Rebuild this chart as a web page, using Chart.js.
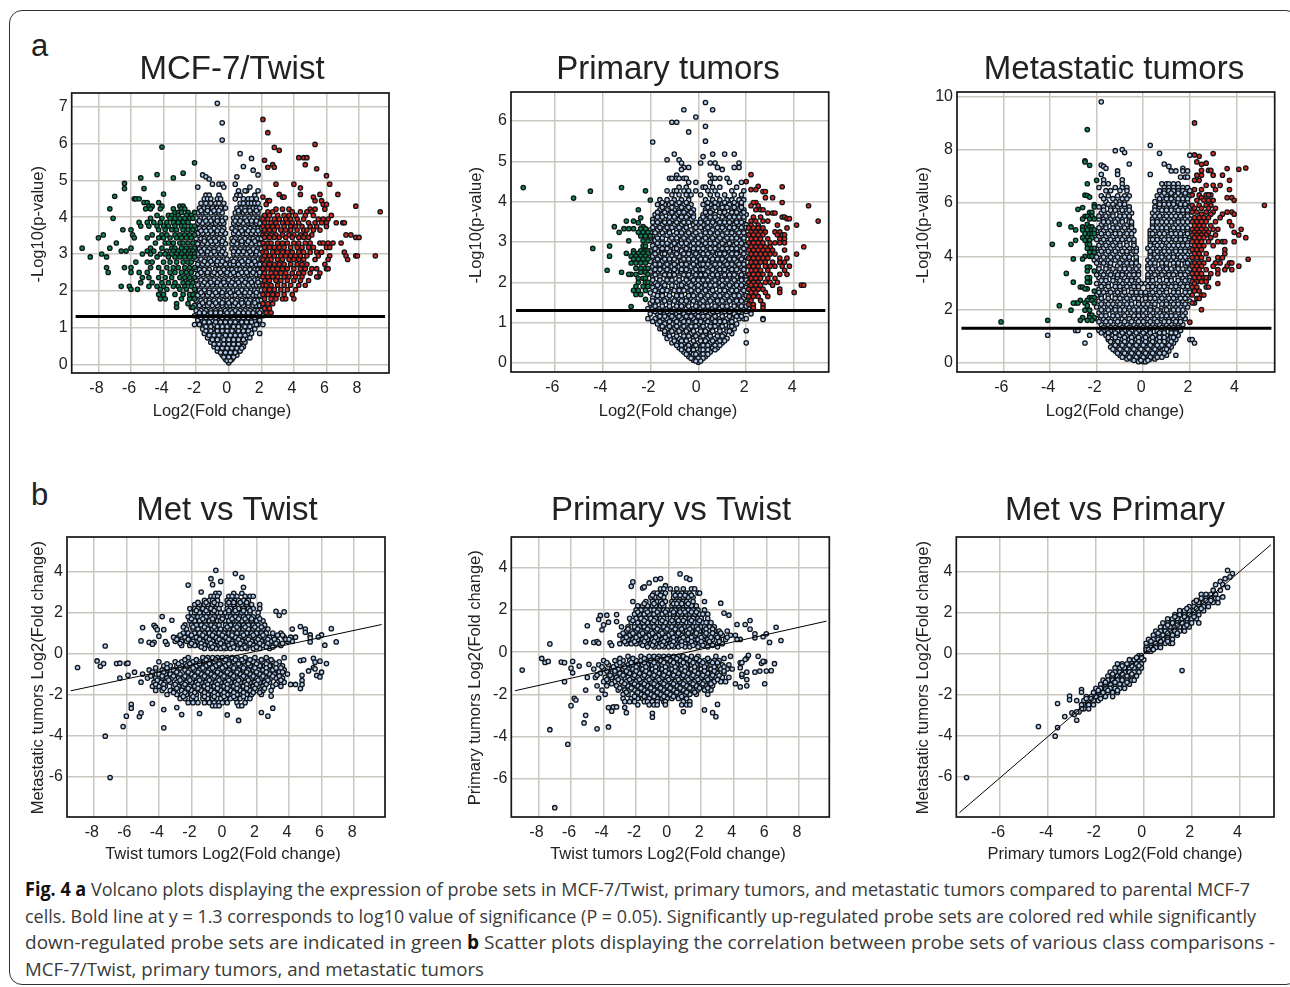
<!DOCTYPE html>
<html><head><meta charset="utf-8">
<script src="https://cdn.jsdelivr.net/npm/chart.js@4/dist/chart.umd.min.js"></script>
<style>
html,body{margin:0;padding:0;background:#fff;overflow:hidden;width:1290px;height:987px}
#box{position:absolute;left:9px;top:10px;width:1290px;height:975px;border:1.5px solid #333;border-radius:13px;box-sizing:border-box}
canvas{position:absolute}
.let{position:absolute;left:31px;font:31px "Liberation Sans",Arial,sans-serif;color:#222}
.cap{position:absolute;left:25px;white-space:nowrap;font:19px "Open Sans",sans-serif;color:#3a3a3a;transform-origin:0 0;line-height:26px}
.cap b{color:#111}
</style></head><body>
<div id="box"></div>
<div class="let" style="top:28px">a</div>
<div class="let" style="top:477px">b</div>
<div class="cap" data-w="1225" style="top:876px"><b>Fig. 4 a</b> Volcano plots displaying the expression of probe sets in MCF-7/Twist, primary tumors, and metastatic tumors compared to parental MCF-7</div>
<div class="cap" data-w="1231" style="top:903px">cells. Bold line at y = 1.3 corresponds to log10 value of significance (P = 0.05). Significantly up-regulated probe sets are colored red while significantly</div>
<div class="cap" data-w="1250" style="top:929px">down-regulated probe sets are indicated in green <b>b</b> Scatter plots displaying the correlation between probe sets of various class comparisons -</div>
<div class="cap" data-w="459" style="top:956px">MCF-7/Twist, primary tumors, and metastatic tumors</div>
<script>
// Every row: [y, x*10, x*10, ...].
const mcfBlue=[[7.1,-7],[6.57,-4],[6.1,-4],[5.73,7],[5.6,14],[5.38,9],[5.28,15],[5.15,18,-16],[5.1,-14,5],[5.04,-12],[4.9,-10,-6,-4,4],[4.82,-19,-3,13],[4.72,11,10,18,6],[4.6,-14,-12,-6,5,7,16],[4.5,-15,-13,-11,-7,-5,4,9,12,14,17],
[4.38,-17,-14,-11,-8,-6,-3,7,9,12,14,16,18],[4.25,-18,-15,-13,-10,-7,-5,-2,5,8,10,13,15,17,19],[4.12,-19,-16,-14,-11,-8,-6,-4,4,6,9,11,14,16,18],[3.98,-20,-17,-15,-12,-9,-7,-4,-2,3,5,8,10,13,15,18,20],[3.84,-19,-16,-13,-10,-8,-5,-3,3,6,9,12,14,17,19],[3.7,-20,-18,-15,-12,-9,-6,-3,2,5,7,10,13,16,18,20],[3.56,-19,-16,-13,-10,-7,-5,-2,3,6,9,11,14,17,19],[3.42,-20,-17,-15,-12,-9,-6,-3,2,4,7,10,13,15,18,20],[3.28,-19,-16,-13,-10,-7,-4,-2,2,5,8,11,14,17,19],[3.14,-20,-18,-15,-12,-9,-6,-3,2,4,7,10,12,15,18,20],[3,-19,-16,-13,-11,-8,-5,-2,3,5,8,11,14,17,19],
[2.86,-20,-17,-14,-12,-9,-6,-3,-1,2,4,7,10,13,15,18,20],[2.72,-19,-16,-13,-10,-7,-5,-2,1,3,6,9,12,14,17,19],[2.58,-20,-18,-15,-12,-8,-6,-3,0,2,5,7,10,13,16,18,20],[2.44,-19,-16,-13,-10,-7,-4,-1,1,4,6,9,12,14,17,19],[2.3,-20,-17,-14,-11,-9,-6,-3,0,3,5,8,11,13,16,18,20],[2.16,-19,-16,-13,-10,-7,-5,-2,1,4,7,9,12,15,17,19],[2.02,-20,-18,-15,-12,-9,-6,-3,0,3,5,8,11,14,16,18,20],[1.88,-19,-16,-13,-10,-7,-4,-1,2,4,7,10,12,15,17,19],[1.74,-20,-17,-14,-12,-9,-6,-3,-1,2,5,8,11,13,16,18,20],[1.6,-21,-18,-15,-13,-10,-7,-4,-1,1,3,6,9,12,15,17,19,21],[1.46,-20,-17,-14,-11,-8,-5,-2,1,4,7,10,13,16,18,20],
[1.32,-21,-18,-16,-13,-10,-7,-3,0,3,5,8,11,14,17,19,21],[1.2,-19,-16,-13,-10,-7,-4,-1,2,5,8,11,14,16,19],[1.08,-21,-18,-15,-12,-9,-6,-3,0,3,6,9,12,15,18,21,17],[.96,-16,-13,-10,-7,-4,-1,2,5,8,11,14,16],[.84,-15,-12,-9,-6,-3,0,3,6,9,12,14,19],[.72,-13,-10,-7,-4,-1,2,5,8,11,13],[.6,-11,-8,-5,-2,1,4,7,10],[.48,-9,-6,-3,0,3,6,9],[.36,-7,-4,-1,2,5,7],[.25,-4,-2,1,3,5],[.14,-2,0,2],[.04,0]];
const mcfBlueFill=[[.1,-1,1],[.2,-3,0,3],[.32,-5,-2,1,4],[.44,-7,-4,-1,2,5,8],[.55,-9,-6,-3,0,3,6],[.67,-10,-7,-3,0,3,6,9],[.79,-12,-9,-6,-2,1,4,7,10],[.91,-14,-11,-7,-4,-1,2,6,9,12],[1.03,-14,-11,-7,-4,-1,3,6,10,13],[1.15,-15,-12,-8,-5,-2,1,4,8,11,14],[1.27,-17,-14,-11,-8,-4,-1,3,6,9,12,16],[1.4,-18,-15,-11,-8,-5,-1,2,6,9,12,15,19],[1.67,-16,-12,-8,-4,0,4,8,12,16],[1.95,-17,-12,-8,-4,1,6,10,13,17],[2.23,-15,-11,-7,-3,2,6,10,14,18],[2.5,-17,-13,-9,-5,-1,3,8,11,15,19],[2.8,-15,-11,-7,-4,3,8,12,16],[3.07,-17,-13,-9,-4,3,6,9,13,17],[3.35,-15,-11,-8,-4,3,8,12,16],[3.63,-17,-14,-11,-7,-4,4,8,12,15,18],[3.9,-18,-14,-11,-7,-4,4,7,11,14,17],[4.18,-17,-13,-9,-6,6,10,13,17]];
const mcfGreen=[[5.91,-41],[5.48,-21],[5.2,-28],[5.16,-44],[5.07,-54,-34],[4.92,-64],[4.78,-64,-52],[4.63,-40],[4.57,-70],[4.5,-58,-57,-55],[4.4,-52,-50,-43],[4.3,-41,-49,-47,-30,-28],[4.23,-73,-51,-48,-42,-34,-29,-27],[4.13,-33,-31,-25,-21,-29],[4.05,-44,-37,-35,-31,-26,-23],[3.97,-71,-48,-41,-36,-33,-30,-27,-24,-22],[3.86,-55,-50,-46,-42,-38,-34,-31,-28,-25],[3.76,-54,-49,-44,-40,-37,-33,-29,-27,-23,-21],[3.66,-65,-60,-43,-39,-35,-32,-28,-25,-22],[3.52,-77,-59,-47,-41,-38,-33,-30,-27,-24,-21],[3.44,-80,-58,-50,-43,-40,-36,-32,-29,-26,-23],[3.3,-69,-45,-39,-37,-34,-30,-28,-25,-22],[3.16,-90,-73,-60,-48,-41,-35,-33,-29,-26,-23,-21],[3.08,-66,-63,-50,-46,-38,-34,-31,-27,-24,-22],[3,-78,-53,-48,-42,-39,-35,-32,-29,-25,-23,-21],[2.92,-85,-75,-44,-37,-33,-30,-27,-24,-21],[2.78,-57,-50,-47,-40,-36,-32,-28,-25,-23],[2.63,-75,-64,-60,-48,-43,-38,-34,-31,-27,-24,-21],[2.5,-74,-60,-55,-50,-41,-36,-33,-29,-26,-23],[2.36,-53,-49,-43,-39,-35,-30,-27,-24,-21],[2.22,-54,-47,-41,-37,-33,-28,-25,-22],[2.12,-66,-61,-49,-44,-40,-34,-31,-27,-23],[2.04,-60,-56,-42,-38,-30,-26,-21],[1.9,-43,-40,-33,-28,-24,-22],[1.78,-42,-39,-29,-24,-21],[1.65,-32,-25],[1.55,-32,-23,-22]];
const mcfRed=[[6.66,21],[6.3,24],[5.98,53],[5.9,28],[5.82,31],[5.62,43,46,48],[5.55,22],[5.43,27,47],[5.36,24,28],[5.32,54],[5.13,60],[4.9,29,40,62],[4.8,44],[4.62,31,44,56,67],[4.55,21,33,34,52],[4.45,24,25,53,57],[4.35,23,58,60],[4.3,78],[4.22,29,33,37,50,53,59],[4.15,24,27,39,44,48,51,93],[4.05,22,25,30,34,37,41,47,52,63],[3.95,21,24,28,31,35,38,42,46,55,58,61],[3.85,22,26,29,33,36,39,43,49,53,57,60,66,70,71],[3.75,21,24,27,30,34,38,41,45,50,54,60],[3.65,22,25,28,32,35,38,42,46,48,52,56],[3.52,21,23,26,29,33,37,40,44,47,51,72,75],[3.45,22,25,28,31,35,39,43,46,49,78,80],[3.3,21,24,26,30,33,36,40,43,47,50,56,58,61,64,69],[3.18,22,25,28,31,34,38,42,45,49,52,60,62],[3.05,21,23,27,30,33,36,39,43,46,50,54,57,71],[2.95,22,25,28,32,35,38,41,44,48,55,62,90,72,78,79],[2.85,21,24,26,30,33,37,40,43,46,53,61,73],[2.72,22,25,28,31,34,38,42,45,48,59],[2.6,21,24,27,30,33,36,40,44,47,51,54,60,61],[2.48,22,26,29,32,35,39,43,46,56,50],[2.38,21,24,27,30,34,37,41,45,55,54],[2.28,22,25,29,32,36,40,44,49],[2.15,21,23,26,30,34,38,43,47],[2.03,22,25,28,32,36,41],[1.9,21,24,27,30,34,39],[1.78,22,26,29,33,35,40],[1.65,21,24,27],[1.52,22,25],[1.4,23,26]];

const primBlue=[[6.46,3],[6.28,-6,6],[6.1,-1],[5.97,-11,-9],[5.87,3],[5.73,-4],[5.5,3],[5.48,-19],[5.18,-10,6,11,15],[5.12,2],[5.04,-13,-8],[4.96,-7,1,5,7,17],[4.85,-6,-4,8,15,17],[4.8,10,-7],[4.66,-9,5],[4.58,-12,-11,-9,-8,-6,-5,6,7,9,12],[4.48,-4,5,13,18,-1],[4.36,-5,-8,6,9,16,2,3],[4.27,-13,-10,-9,-6,-4,-1,4,7,14,19],[4.17,-11,-8,-5,-3,1,5,8,11,15,18],[4.05,-16,-13,-10,-7,-4,3,6,9,12,14,17,19],[3.93,-17,-14,-12,-9,-6,-3,2,5,8,10,13,16,18],[3.8,-16,-13,-10,-8,-5,-2,3,6,9,11,14,17,19],[3.68,-18,-15,-12,-9,-7,-4,-2,2,4,7,10,12,15,18,20],[3.56,-19,-16,-14,-11,-8,-6,-3,1,3,6,8,11,14,16,19],[3.43,-18,-15,-13,-10,-7,-5,-2,2,5,7,10,12,15,17,20],[3.3,-20,-17,-14,-12,-9,-6,-3,2,3,6,9,11,14,16,19],[3.17,-19,-16,-13,-10,-8,-5,-2,1,4,7,10,13,15,18,20],[3.04,-20,-18,-15,-12,-9,-7,-4,-1,2,5,8,11,14,17,19],
[2.91,-19,-16,-14,-11,-8,-6,-3,-1,1,4,6,9,12,15,17,20],[2.78,-20,-17,-15,-12,-10,-7,-4,-2,1,3,6,8,11,13,16,18],[2.65,-19,-16,-13,-11,-8,-5,-3,0,2,5,7,10,12,15,17,20],[2.52,-20,-18,-15,-12,-9,-7,-4,-1,1,4,6,9,11,14,16,19],[2.39,-19,-16,-14,-11,-8,-6,-3,0,3,5,8,10,13,15,18,20],[2.26,-20,-17,-15,-12,-9,-7,-4,-2,1,4,7,9,12,14,17,19],[2.13,-19,-16,-13,-11,-8,-5,-3,0,2,5,8,10,13,16,18,20],[2,-20,-18,-15,-12,-9,-6,-4,-1,1,3,6,9,11,14,17,19],[1.87,-19,-16,-14,-11,-8,-5,-2,1,4,6,9,12,15,17,20],[1.74,-20,-17,-15,-12,-9,-7,-4,-1,2,5,8,10,13,15,18],[1.61,-19,-16,-13,-11,-8,-5,-3,0,3,6,8,11,14,16,19,21],[1.48,-20,-18,-15,-12,-9,-6,-4,-1,1,4,7,9,12,15,17,20],[1.35,-21,-19,-16,-13,-10,-8,-5,-2,1,3,6,9,11,14,16,19,21],[1.22,-20,-17,-14,-12,-9,-6,-3,-1,2,5,7,10,13,15,18,22],[1.1,-21,-18,-15,-13,-10,-7,-4,-2,1,3,6,9,12,14,17,19,20,27],[.97,-17,-14,-11,-8,-5,-3,0,2,5,8,10,13,16],[.85,-16,-13,-10,-7,-4,-2,1,4,6,9,12,15,-15],[.73,-14,-12,-9,-6,-3,0,3,5,8,11,14],[.61,-13,-10,-8,-5,-2,1,4,7,9,12],[.5,-11,-9,-6,-3,0,2,5,8,10,20],[.38,-8,-5,-2,1,3,6,8],[.27,-6,-3,0,3,5],[.16,-4,-2,1,3],[.07,-2,1],[.02,0],[.8,20],[1.08,27]];
const primBlueFill=[[3.98,-15,-11,-8,-5,4,7,11,15,18],[3.86,-15,-11,-7,-4,4,7,10,12,15,18],[3.74,-17,-14,-11,-8,-6,-3,3,5,9,11,14,16,19],[3.62,-17,-15,-12,-10,-7,-5,-2,2,5,7,10,13,15,17,19],[3.49,-19,-17,-14,-12,-9,-6,-4,-1,1,4,6,9,11,13,16,18],[3.36,-19,-16,-13,-11,-8,-5,-1,1,4,8,10,13,15,18,20],[3.23,-20,-18,-15,-12,-9,-7,-4,-1,3,5,8,12,14,17,19],[3.1,-20,-17,-15,-11,-9,-6,-3,0,3,6,9,12,14,16,19],[2.97,-17,-15,-13,-10,-7,-5,-2,0,3,5,7,10,13,16,18],[2.84,-18,-15,-13,-10,-9,-5,-2,0,2,5,7,10,12,14,16,19],[2.71,-18,-15,-14,-9,-6,-4,-1,2,4,8,9,11,14,16,19],[2.58,-17,-14,-12,-10,-6,-4,-2,1,3,6,8,10,13,15,18],[2.45,-18,-16,-13,-10,-7,-5,-2,1,2,4,7,9,12,14,17,19],[2.32,-18,-16,-13,-10,-7,-5,-1,1,2,6,9,11,14,16,19],[2.19,-18,-14,-12,-10,-6,-4,-1,1,3,6,8,11,13,15,18],[2.06,-19,-16,-13,-11,-8,-5,-2,0,2,4,7,10,12,15,18,20],[1.93,-17,-14,-11,-8,-7,-3,0,3,5,7,10,13,16,18],[1.8,-18,-15,-13,-10,-8,-6,-3,0,3,6,9,11,14,16,19],[1.67,-17,-15,-12,-9,-7,-4,-2,1,4,7,9,12,15,17,20],[1.54,-19,-17,-14,-10,-7,-5,-2,2,5,8,10,13,16,18],[1.41,-18,-15,-12,-9,-7,-4,-1,2,4,7,10,12,15,18,20],[1.28,-18,-16,-13,-11,-8,-4,-2,0,3,6,8,11,13,17,20],[1.16,-16,-14,-11,-8,-5,-3,0,2,4,7,10,13,16,18],[1.03,-19,-16,-12,-9,-6,-4,-1,1,4,7,9,11,14],[.91,-15,-12,-9,-6,-3,-1,2,5,7,10,13,14],[.79,-14,-11,-8,-5,-2,1,3,6,9,12,13],[.67,-12,-9,-6,-4,-1,2,5,8,10],[.55,-10,-7,-5,-2,1,3,6,9,11],[.44,-9,-7,-4,-1,2,4,7,9],[.33,-7,-4,-2,1,2,4,7],[.22,-5,-2,-1,2,4],[.12,-3,0,2],[.05,-1,1]];
const primGreen=[[4.35,-73],[4.26,-45],[4.35,-32],[4.27,-22],[4.09,-52],[4.04,-20],[3.8,-25],[3.6,-24],[3.52,-30,-27],[3.48,-25],[3.38,-35,-23],[3.33,-31,-29,-27,-24,-22],[3.24,-33,-25,-23,-21],[3.15,-24,-22,-20],[3.03,-29,-23,-21],[2.9,-37,-23,-22],[2.84,-44],[2.78,-27,-24,-22,-21],[2.72,-30,-27,-25,-23,-21],[2.65,-37,-28,-26,-24,-22],[2.58,-27,-25,-23,-21],[2.48,-28,-26,-24,-22],[2.35,-26,-24,-22,-21],[2.3,-38],[2.25,-32,-24,-22],[2.2,-28,-29,-26,-21],[2.1,-25,-23,-22],[2.0,-25,-22,-21],[1.9,-26,-23,-21],[1.8,-27,-25,-22],[1.7,-26,-24],[1.58,-22],[1.4,-28]];
const primRed=[[4.67,22],[4.5,20],[4.38,25],[4.37,35],[4.3,24,22],[4.25,27,28],[4.1,28,31],[3.98,35,24,23],[3.9,22,25,46],[3.8,24,26,27],[3.72,29,31,32],[3.62,23,26,35,36],[3.58,37,38],[3.52,22,24,27,29,50],[3.42,22,25,33,41],[3.35,21,23,25,27,37],[3.25,22,24,26,28,32,34],[3.18,21,23,25,27,33,35,36],[3.08,22,24,26,29,34,36],[2.98,21,23,25,27,30,34,32,36],[2.88,22,24,26,28,30,44],[2.8,21,23,25,27,29,31,36],[2.7,22,24,26,28,30,32,41],[2.6,21,23,25,27,29,34,37],[2.5,22,24,26,28,31,34,36],[2.4,21,23,25,28,30,32,35,38],[2.3,22,24,26,29,36],[2.2,21,23,25,27,30,34,37],[2.1,22,24,26,29,32],[2.0,21,23,25,28,30,33],[1.93,22,24,26,31,43,44],[1.83,21,23,25,27,34],[1.75,22,24,28,34,40],[1.65,21,23,25,29],[1.55,22,26],[1.45,21,23,27],[1.37,23,27]];

const metBlue=[[9.79,-18],[8.16,3],[7.96,-12],[8,-9],[7.89,-8],[7.86,7],[7.79,20],[7.46,-6,9],[7.42,-18],[7.37,-17,11],[7.3,-16,17],[7.2,-11,12,14,17,19],[7.07,3,-11,-18],[6.97,18,19,16],[6.87,-17,-9],[6.72,-17,-15,8,10,-9,11,13,15],[6.58,-19,-12,-9,-7,9,11,13,15,17,19],[6.46,-16,-14,-10,-7,7,9,11,13,15,17,20],[6.27,-18,-15,-11,-8,-6,6,8,10,12,14,16,18,20],[6.05,-16,-12,-10,-8,5,7,9,11,13,15,17,19],[5.85,-19,-17,-14,-11,-8,-6,5,7,10,12,14,16,18,20],[5.62,-18,-15,-13,-10,-7,-5,4,6,8,11,13,15,17,19],[5.4,-19,-17,-14,-11,-9,-6,4,6,9,11,13,15,18,20],[5.18,-18,-16,-13,-10,-7,-5,4,7,9,11,14,16,18],[4.96,-20,-17,-14,-12,-9,-6,-4,3,5,8,10,12,15,17,19],[4.74,-19,-16,-13,-10,-8,-5,3,6,8,11,13,16,18,20],[4.52,-18,-15,-12,-10,-7,-4,3,5,7,10,12,15,17,19],[4.3,-20,-17,-14,-11,-8,-6,-3,2,4,7,9,12,14,16,18,20],[4.08,-19,-16,-13,-10,-7,-5,3,5,8,10,13,15,17,19],[3.86,-21,-18,-15,-12,-9,-6,-3,2,4,7,9,12,14,17,20],[3.64,-19,-16,-14,-11,-8,-5,-2,2,5,8,10,13,15,18,20],[3.42,-20,-18,-15,-12,-9,-7,-4,-2,3,6,9,11,14,16,19],[3.2,-19,-16,-13,-11,-8,-5,-3,2,4,7,10,12,15,17,20],[2.98,-20,-17,-15,-12,-9,-6,-4,-1,1,3,6,9,11,14,16,19],[2.76,-19,-16,-13,-10,-8,-5,-2,2,5,8,10,13,15,18,20],[2.54,-20,-18,-15,-12,-9,-6,-3,-1,1,3,6,9,12,14,17,19],[2.32,-19,-16,-14,-11,-8,-5,-2,1,4,7,10,12,15,17,20],[2.1,-20,-17,-14,-12,-9,-6,-3,-1,1,3,5,8,11,14,16,19],[1.88,-19,-16,-13,-10,-7,-5,-2,1,4,7,9,12,15,18],[1.66,-20,-17,-15,-12,-9,-6,-3,-1,2,5,8,11,13,16,18],[1.44,-18,-15,-13,-10,-7,-4,-1,2,4,7,10,12,15,17],[1.22,-19,-17,-14,-11,-8,-5,-2,1,3,6,9,12,14,16,-29,-28],[1.04,-41,-23,-16,-13,-10,-7,-4,-1,2,5,8,10,13,15],[.88,-15,-12,-9,-6,-3,0,3,6,9,11,14,20,21],[.75,-25,-13,-10,-7,-4,-1,2,5,8,10,13,22],[.6,-14,-11,-8,-5,-2,1,4,7,9,12],[.45,-12,-9,-6,-3,0,3,6,8,11],[.29,-10,-7,-4,-1,2,5,7,10,14],[.15,-7,-5,-2,1,3,5],[.05,-2,0,1]];
const metBlueFill=[[6.37,12,15,18,9],[6.16,-17,-13,-9,-7,7,10,12,15,17,19],[5.95,-15,-13,-10,-8,7,9,11,13,16,18],[5.73,-17,-14,-12,-9,-6,5,8,10,12,15,17,19],[5.51,-19,-16,-13,-10,-8,-6,5,7,10,12,14,16,19],[5.29,-17,-15,-12,-9,-6,-5,4,6,8,10,12,15,17,19],[5.07,-19,-16,-13,-11,-8,-5,4,6,8,10,13,15,17,19],[4.85,-18,-15,-12,-10,-7,-5,3,4,7,9,12,14,16,19],[4.63,-20,-17,-14,-11,-9,-6,-4,3,4,6,9,11,14,16,18],[4.41,-19,-16,-13,-10,-7,-4,3,6,8,11,13,15,17,19],[4.19,-18,-15,-12,-9,-7,-4,-3,3,6,9,11,14,16,18,20],[3.97,-20,-17,-14,-11,-8,-6,-3,3,6,8,11,13,16,18],[3.75,-20,-17,-14,-10,-7,-5,-3,3,5,8,10,13,15,18,19],[3.53,-19,-16,-13,-10,-8,-6,-3,2,4,7,10,12,15,17,20],[3.31,-20,-17,-14,-11,-9,-6,-4,-2,2,5,8,11,13,16,18],[3.09,-18,-16,-13,-10,-7,-5,-2,2,4,7,10,12,15,18,20],[2.87,-18,-15,-12,-10,-7,-4,-2,2,4,7,9,12,14,17,19],[2.65,-19,-17,-14,-11,-8,-5,-3,-1,1,4,7,10,13,15,18,20],[2.43,-18,-15,-12,-10,-7,-4,-2,1,3,5,8,11,13,16,18],[2.21,-18,-15,-13,-10,-7,-5,-2,0,2,5,8,10,13,15,18],[1.99,-18,-15,-12,-10,-8,-4,-2,0,3,6,9,10,13,15,17],[1.77,-18,-16,-13,-11,-8,-4,-2,0,3,6,8,10,12,14,17],[1.55,-19,-16,-14,-11,-8,-5,-2,0,3,6,9,11,14,16],[1.33,-17,-14,-12,-9,-6,-3,0,3,5,8,11,13,15],[1.13,-18,-15,-12,-9,-6,-3,0,3,7,9,12,14],[.96,-15,-12,-8,-5,-2,1,4,7,9,12,13],[.8,-14,-11,-8,-5,-2,1,4,7,9,12],[.67,-12,-9,-6,-3,0,3,6,8,11],[.52,-13,-10,-7,-4,-1,2,5,9,10],[.37,-11,-8,-5,-2,1,4,7,9],[.22,-9,-6,-3,0,3,6,8],[.1,-4,-1,2]];
const metGreen=[[8.75,-24],[7.58,-25],[7.54,-25],[7.41,-23],[6.85,-20],[6.72,-24],[6.29,-25],[6.28,-24],[6.22,-23],[5.94,-21],[5.85,-21],[5.83,-26],[5.76,-28],[5.65,-23,-22],[5.5,-25,-24,-22],[5.4,-26,-23,-21],[5.2,-36,-24],[5.1,-31,-26,-23,-22],[4.99,-29,-26,-24,-22,-21],[4.85,-25,-23,-22,-21],[4.7,-26,-24,-22],[4.6,-29,-25,-23],[4.45,-31,-39,-24,-23],[4.3,-24,-22,-21],[4.15,-23,-21],[4,-25,-23,-22],[3.9,-26,-30],[3.6,-23,-24],[3.45,-24,-21],[3.36,-33],[3.2,-23,-24],[3.03,-30,-23,-24],[2.85,-27,-26],[2.78,-24,-25],[2.7,-21],[2.45,-23,-22,-21],[2.35,-27,-24,-22],[2.25,-29,-30,-28,-25,-21],[2.15,-36,-24],[1.98,-31,-25,-23],[1.8,-23,-22],[1.7,-26,-23,-21],[1.6,-41,-27,-24,-22],[1.54,-61]];
const metRed=[[9,22],[7.85,30],[7.8,22],[7.75,24],[7.54,23],[7.49,27],[7.45,25],[7.31,44],[7.29,36],[7.26,41],[7.22,28,29,25],[7.04,30,34,25,23],[6.85,22,24,37],[6.66,33,27,30],[6.5,22,31,25,37],[6.3,21,24,27,29,28],[6.2,36,38,25],[6.1,23,26,28,30,39],[5.91,52,21,24,27,29],[5.8,22,25,31,28],[5.66,21,23,27,30,36,38],[5.58,25,29,39,34],[5.45,22,24,26,28,33],[5.3,21,23,25,27,31,37],[5.15,22,24,26,29,38],[5.01,21,23,25,27,30,32,42],[4.9,22,24,26,28,39],[4.8,21,23,25,27,31,41],[4.7,22,24,26,29,44],[4.55,21,23,25,28,32,34,39,35],[4.4,22,24,26,30],[4.25,21,23,25,35],[4.1,22,24,27,35],[3.95,21,23,25,32,34],[3.89,45,28],[3.75,22,24,26,31,37,38,33],[3.63,21,23,25,41,36,30],[3.5,22,24,27,35,38,32],[3.35,21,23,25,29,32],[3.2,22,24,26,28,27],[3.05,21,23,25,27],[2.98,32,22],[2.85,21,23,27,28],[2.7,22,24],[2.55,21,25,26],[2.42,23,24],[2.25,22,21],[2,25],[1.53,20]];

const metTwist=[[-.68,-90],[-.36,-78],[-.62,-76],[-.49,-74,-66,-60],[.37,-73],[-4.04,-73],[-6.06,-70],[-.47,-64,-59],[-1.2,-64],[-1.06,-59],[-3.57,-62],[-3.06,-60],[-2.48,-57],[-2.67,-57],[-.91,-55],[-3.08,-52],[-2.9,-51],[.62,-51],[1.27,-50],[.55,-46,-43],[.46,-44,-35],[1.38,-43],[1.29,-42],[1.17,-41,-37],[.85,-40],[1.81,-38],[.59,-36],[1.63,-32],[-2.44,-44],[-2.74,-37],[-3.63,-37],[-2.64,-29],[-2.98,-26],[3.35,-22],[-2.93,-15],[3.01,-14],[4.07,-5],[3.66,-8],[3.37,-7],[3.53,-2],[3.91,7],[3.73,11],[3.24,12],[-3,2],[-3.27,9],[-2.88,23],[-3.06,27],[-2.67,30],[-2.08,29],[2.07,32],[1.87,34],[2.04,37],[1.2,42,50],[1.32,47],[1.04,50],[.91,53,60],[.77,53],[.57,53,69],[.81,58],[1.22,66],[.41,62],[-.34,47],[-.31,49],[-.85,52],[-.23,55],[-.42,56],[-.37,59],[-.68,55],[-.75,56],[-.91,60],[-1.07,57],[-1.14,59],[-.49,63],[-1.06,48],[-1.32,48],[-1.51,48,44,41],[-1.71,47],
[2.95,-5,-3,6,11],[2.8,-8,-6,-4,3,5,8,13,16,18],[2.6,-12,-9,-7,-4,2,4,7,9,12,15],[2.4,-18,-15,-12,-10,-7,-4,-2,2,4,6,9,11,14,17,22],[2.2,-21,-18,-16,-13,-10,-8,-5,-3,2,4,7,9,12,15,18,22],[2,-20,-18,-15,-12,-10,-7,-4,-2,1,3,6,8,11,14,16,21],[1.8,-22,-19,-16,-14,-11,-8,-6,-3,-1,2,4,7,10,12,15,18,21],[1.6,-21,-18,-15,-12,-9,-7,-4,-2,1,3,6,8,11,14,17,20,24],[1.4,-24,-20,-17,-14,-11,-8,-5,-3,1,4,7,9,12,15,18,21,25],[1.2,-23,-19,-16,-13,-10,-7,-5,-2,1,3,6,9,12,15,18,21,24,27],[1,-25,-22,-18,-15,-12,-9,-6,-3,0,3,5,8,11,14,17,20,23,26,30,35],[.8,-31,-28,-24,-21,-17,-14,-11,-8,-5,-2,1,4,7,10,13,16,19,22,25,28,32,37,41,44],[.6,-30,-26,-23,-19,-16,-13,-10,-7,-4,-1,2,5,8,11,14,17,20,23,26,29,33,39,42],[.4,-26,-21,-18,-15,-12,-9,-6,-3,0,3,6,9,12,15,18,21,24,28,31,35],[.25,-12,-8,-5,-2,1,4,8,11,14,18,22,28],
[-.2,-22,-13,-10,-7,-4,-1,2,5,8,13,19,26,37],[-.4,-40,-30,-26,-22,-19,-15,-12,-9,-6,-3,0,3,6,9,12,15,18,21,24,27,30,34],[-.6,-37,-33,-29,-26,-23,-20,-17,-14,-11,-8,-5,-2,1,4,7,10,13,16,19,22,25,28,31,36],[-.8,-46,-42,-38,-35,-31,-28,-24,-21,-18,-15,-12,-9,-6,-3,0,3,6,9,12,15,18,21,24,27,30,33,37],[-1,-50,-44,-40,-36,-33,-30,-27,-23,-20,-17,-14,-11,-8,-5,-2,1,4,7,10,13,16,19,22,25,28,31,35,39],[-1.2,-47,-42,-38,-35,-32,-28,-25,-22,-19,-16,-13,-10,-7,-4,-1,2,5,8,11,14,17,20,23,26,29,32,36],[-1.4,-51,-43,-39,-36,-33,-29,-26,-23,-20,-17,-14,-11,-8,-5,-2,1,4,7,10,13,16,19,22,25,28,33,37],[-1.6,-44,-40,-36,-31,-28,-25,-21,-18,-15,-12,-9,-6,-3,0,3,6,9,12,15,18,21,24,30,35],[-1.8,-42,-38,-33,-30,-26,-23,-20,-17,-14,-11,-8,-5,-2,1,4,7,10,13,16,20,24,29],[-2,-35,-29,-26,-23,-20,-17,-13,-10,-7,-4,-1,2,5,8,11,14,17,23],[-2.2,-27,-24,-20,-17,-13,-10,-7,-4,-2,1,4,7,10,14,16],[-2.4,-22,-19,-16,-12,-9,-6,-3,-1,2,8,13],[-2.55,-7,-5,-3,9,11]];
const metTwistFill=[[2.5,-16,-11,-6,3,6,10,14],[2.1,-17,-11,-6,3,7,12,16],[1.7,-20,-13,-7,-1,5,9,13,17,22],[1.3,-25,-19,-12,-6,2,8,13,19,23],[.9,-27,-20,-13,-7,-1,5,12,18,24,33,36],[.7,-29,-22,-15,-9,-3,3,9,15,21,27,31,38,40],[.5,-27,-20,-14,-8,-2,5,10,16,22,27,32,36],[.32,-14,-7,0,6,13,20,26,30],[-.3,-24,-17,-11,-5,1,7,11,16,23,29],[-.5,-35,-28,-21,-15,-9,-3,3,9,15,20,26,32],[-.7,-42,-35,-27,-19,-13,-7,-1,6,12,19,26,32,35],[-.9,-44,-37,-29,-22,-16,-10,-4,2,8,14,20,26,34,36],[-1.1,-45,-38,-31,-24,-18,-12,-6,0,6,12,18,24,30,34],[-1.3,-41,-34,-27,-21,-15,-9,-3,3,9,15,21,27,35],[-1.5,-42,-37,-30,-24,-16,-10,-4,2,8,14,20,26,32],[-1.7,-37,-29,-22,-16,-10,-4,2,8,14,19,25],[-1.9,-31,-24,-18,-12,-6,0,6,12,18,22],[-2.1,-25,-19,-12,-6,0,6,12]];

const primTwist=[[-.85,-90],[-.3,-78],[-.49,-76],[-.44,-74],[.39,-73],[-3.68,-73],[-7.38,-70],[-.47,-66],[-.5,-64],[-.44,-59],[-.76,-60],[-.98,-59],[-1.4,-64],[-4.37,-62],[-2.54,-60],[-2.19,-58],[-2.27,-57],[-.66,-55],[-3,-51],[-3.36,-52],[.49,-51],[1.25,-50],[-.58,-49],[.46,-46],[.5,-44],[.43,-43],[1.74,-42],[1.55,-43],[1.29,-40],[1.06,-41],[1.75,-38],[1.42,-37],[.44,-36],[.32,-35],[1.78,-32],[1.45,-32],[-1.6,-44],[-2.18,-43],[-3.64,-44],[-3.55,-37],[-2.63,-37],[-2.8,-35],[-2.6,-34,-32],[-2.63,-27],[-2.87,-26],[3.12,-23],[3.33,-22],[3.04,-16],[3.09,-15],[3.28,-12],[3.45,-8],[3.49,-5],[3.15,-2],[3.71,7],[3.52,11],[3.45,13],[-2.9,-10],[-3.09,-10],[-2.82,9],[-2.74,22],[-2.87,27],[-3.06,29],[-2.48,30],[2.32,32],[1.85,34],[1.75,37],[1.31,42,47],[1.5,50],[1.09,50],[.87,53,60],[.68,53],[.73,58],[.46,62],[1.18,66],[.55,69],[-.28,48],[-.15,49],[-.35,47],[-.5,44,45],[-.74,44],[-.95,48],[-.95,53],[-.2,55],[-.53,57],[-.9,56],[-.45,59],[-.9,60],[-.44,58],[-.88,63],[-.55,65],[-1.5,59],[-1.15,45],[-1.05,45],[-1.5,41],[-1.65,44],[-1.3,48],[-1.6,48],
[3,-5,-3,1,5,9,14,16],[2.8,-9,-7,-4,-2,3,6,8,11,13,18,19],[2.6,-11,-8,-6,-3,3,5,7,9,12,15],[2.4,-22,-14,-10,-7,-5,-2,2,4,6,9,11,15,22],[2.2,-19,-16,-13,-10,-8,-5,-3,2,4,6,9,11,14,17],[2,-20,-17,-14,-11,-9,-6,-3,-1,2,4,7,9,12,15,18,22],[1.8,-21,-18,-15,-12,-9,-6,-4,-1,1,3,6,8,11,13,16,19,21,24],[1.6,-24,-20,-17,-14,-11,-8,-5,-3,1,3,5,8,10,13,15,18,20,24],[1.4,-23,-19,-16,-13,-10,-7,-5,-2,1,3,6,8,11,13,16,18,21,23,26],[1.2,-29,-25,-21,-18,-15,-12,-9,-6,-3,0,2,5,7,10,12,15,17,20,22,25,28],[1,-26,-23,-20,-17,-14,-11,-8,-5,-2,1,3,6,9,11,14,17,19,22,25,28,31,36],[.8,-30,-27,-24,-21,-18,-15,-12,-9,-6,-3,0,3,5,8,11,13,16,19,22,25,29,33,38,41],[.6,-28,-25,-22,-19,-16,-13,-10,-7,-4,-1,2,4,7,10,12,15,18,21,24,27,31,35,44,42],[.4,-30,-26,-23,-20,-17,-14,-11,-8,-5,-2,1,4,7,10,13,16,19,22,26,30,33],[.25,-13,-9,-6,-3,0,3,6,10,13,18,24,30],
[-.2,-25,-17,-12,-9,-6,-3,0,3,6,9,14,18,29,38],[-.4,-40,-33,-28,-24,-20,-17,-14,-11,-8,-5,-2,1,4,7,10,13,16,19,22,25,28,31],[-.6,-43,-37,-32,-28,-25,-22,-19,-16,-13,-10,-7,-4,-1,2,5,8,11,14,17,20,23,26,29,33,37],[-.8,-46,-40,-35,-31,-28,-25,-22,-19,-16,-13,-10,-7,-4,-1,2,5,8,11,14,17,20,23,26,29,32,36,39],[-1,-42,-37,-33,-30,-27,-24,-21,-18,-15,-12,-9,-6,-3,0,3,6,9,12,15,18,21,24,27,30,34],[-1.2,-50,-45,-39,-35,-32,-29,-25,-22,-19,-16,-13,-10,-7,-4,-1,2,5,8,11,14,17,20,23,26,29,33,37],[-1.4,-40,-37,-33,-29,-26,-23,-20,-17,-14,-11,-8,-5,-2,1,4,7,10,13,16,19,22,25,28,32,35],[-1.6,-38,-32,-28,-25,-22,-19,-16,-13,-10,-7,-4,-1,2,5,8,11,14,17,20,23,27],[-1.8,-51,-41,-31,-27,-24,-21,-18,-15,-12,-9,-6,-3,0,3,6,9,12,15,18,22,26],[-2,-39,-28,-25,-20,-17,-14,-11,-8,-5,-2,1,4,7,10,13,17,24],[-2.2,-28,-23,-19,-16,-12,-9,-7,-4,-1,2,6,11],[-2.35,-27,-24,-21,-15,-13,-10,-7,-3,-2,9,13],[-2.5,-19,-12,-9,-7,-2,8,11,13]];
const primTwistFill=[[2.7,-10,-5,4,7,10,14],[2.3,-15,-9,-4,3,5,8,12],[1.9,-19,-13,-7,-2,3,7,10,14,17],[1.5,-22,-15,-9,-4,2,6,9,14,19],[1.1,-25,-19,-13,-7,-1,4,8,13,18,23,27],[.9,-28,-22,-16,-10,-4,2,6,12,17,23,27,32],[.7,-26,-20,-14,-8,-2,3,9,14,20,26,30,36],[.5,-27,-21,-15,-9,-3,3,8,14,20,25,31],[.32,-16,-10,-4,2,8,15,21,27],[-.3,-30,-22,-15,-7,-1,5,11,17,24,34],[-.5,-38,-30,-23,-15,-9,-3,3,9,15,21,27,30],[-.7,-41,-34,-27,-20,-14,-8,-2,4,10,16,22,28,34],[-.9,-38,-33,-26,-20,-14,-8,-2,4,10,16,22,28,34],[-1.1,-44,-36,-28,-21,-15,-9,-3,3,9,15,21,27,31],[-1.3,-38,-31,-24,-18,-12,-6,0,6,12,18,24,30],[-1.5,-35,-27,-21,-15,-9,-3,3,9,15,21,26],[-1.7,-30,-23,-17,-11,-5,1,7,13,19,24],[-1.9,-26,-19,-13,-7,-1,5,11,16],[-2.1,-21,-15,-9,-3,3,8]];

const metPrim=[[-6.06,-74],[-3.57,-44],[-4.04,-37],[-3.62,-36],[-2.44,-36],[-3.08,-33],[-2.08,-31],[-2.26,-31],[-2.9,-30],[-2.98,-29],[-3.26,-28],[-1.76,-26],[-1.89,-26],[-.83,16],[1.5,23],[4.07,35],[3.91,37],[3.75,36],[3.66,34],[3.53,32],[3.37,30,33],[3.24,35],[2.77,33],[2.49,31],
[3.1,29,32],[2.9,24,26,28,30],[2.7,24,26,28,30,31],[2.5,21,23,25,27,29],[2.3,19,21,23,25,27],[2.1,15,17,19,21,23,25],[1.9,13,15,17,19,21,23],[1.7,10,12,14,16,18,20,22],[1.5,8,10,12,14,16,18,20],[1.3,7,9,11,13,15,17,19],[1.1,5,7,9,11,13,15,17],[.9,4,6,8,10,12,14],[.7,2,4,6,8,10,12],[.5,1,3,5,7,9,11,12],[.3,1,3,5,7],[.12,1,2,3],
[-.1,-2,-1],[-.3,-6,-4,-2,0],[-.5,-11,-9,-7,-5,-3,-1],[-.7,-12,-10,-8,-6,-4,-2,-1],[-.9,-14,-12,-10,-8,-6,-4,-2],[-1.1,-15,-13,-11,-9,-7,-5,-3],[-1.3,-17,-15,-13,-11,-9,-7,-5,-4],[-1.5,-18,-16,-14,-12,-10,-8,-6],[-1.7,-20,-18,-16,-14,-12,-10,-8],[-1.9,-21,-19,-17,-15,-13,-11],[-2.1,-24,-22,-20,-18,-16,-13],[-2.3,-25,-23,-21,-19,-28],[-2.5,-25,-23,-21,-26],[-2.7,-25,-23,-26],[-2.85,-27,-28]];
const metPrimFill=[[2.6,22,26,28],[2.2,18,22,24],[1.8,13,17,21],[1.4,10,14,18],[1,6,10,14],[.6,3,7,10],[.2,1,2,4],[-.2,-3,-1],[-.6,-9,-5,-2],[-1,-13,-9,-5],[-1.4,-16,-12,-7],[-1.8,-19,-15,-11],[-2.2,-22,-18,-24]];

// Endpoints of reference lines
const sigLine1=[[-9.4,1.3],[9.6,1.3]], sigLine2=[[-7.6,1.3],[5.3,1.3]], sigLine3=[[-7.8,1.3],[5.5,1.3]];
const fitLine1=[[-9.42,-1.82],[9.69,1.42]], fitLine2=[[-9.44,-1.83],[9.7,1.47]], fitLine3=[[-7.7,-7.78],[5.31,5.32]];

const pts=rows=>rows.flatMap(r=>r.slice(1).map(x=>({x:x/10,y:r[0]})));
const line=l=>l.map(p=>({x:p[0],y:p[1]}));
const FONT='"Liberation Sans",Arial,sans-serif', INK='#222';
const BLUE='#b4cdea',GREEN='#0b8a4b',RED='#d92a1c';

const panels=[
 {title:'MCF-7/Twist',cx:232,base:81,f:[71.7,92.7,389,372.7],xr:[-9.64,9.84],yr:[-.237,7.38],xs:2,ys:1,xt:'Log2(Fold change)',yt:'-Log10(p-value)',xc:[222,411],yc:[38,224],
  sets:[[mcfBlue.concat(mcfBlueFill),BLUE],[mcfGreen,GREEN],[mcfRed,RED]],lw:3,ln:sigLine1},
 {title:'Primary tumors',cx:668,base:81,f:[511,91.7,828.7,371.7],xr:[-7.81,5.44],yr:[-.223,6.72],xs:2,ys:1,xt:'Log2(Fold change)',yt:'-Log10(p-value)',xc:[668,411],yc:[476,225],
  sets:[[primBlue.concat(primBlueFill),BLUE],[primGreen,GREEN],[primRed,RED]],lw:3,ln:sigLine2},
 {title:'Metastatic tumors',cx:1114,base:81,f:[957,91.7,1274.7,371.7],xr:[-7.99,5.64],yr:[-.3375,10.16],xs:2,ys:2,xt:'Log2(Fold change)',yt:'-Log10(p-value)',xc:[1115,411],yc:[923,225],
  sets:[[metBlue.concat(metBlueFill),BLUE],[metGreen,GREEN],[metRed,RED]],lw:3,ln:sigLine3},
 {title:'Met vs Twist',cx:227,base:523,f:[67,537.3,385,818],xr:[-9.65,9.9],yr:[-7.99,5.7],xs:2,ys:2,xt:'Twist tumors Log2(Fold change)',yt:'Metastatic tumors Log2(Fold change)',xc:[223,855],yc:[38,678],
  sets:[[metTwist.concat(metTwistFill),BLUE]],lw:1,ln:fitLine1},
 {title:'Primary vs Twist',cx:671,base:523,f:[511.3,537.3,829.3,818],xr:[-9.67,9.87],yr:[-7.82,5.46],xs:2,ys:2,xt:'Twist tumors Log2(Fold change)',yt:'Primary tumors Log2(Fold change)',xc:[668,855],yc:[475,678],
  sets:[[primTwist.concat(primTwistFill),BLUE]],lw:1,ln:fitLine2},
 {title:'Met vs Primary',cx:1115,base:523,f:[956.3,537.3,1274,818],xr:[-7.83,5.44],yr:[-7.99,5.7],xs:2,ys:2,xt:'Primary tumors Log2(Fold change)',yt:'Metastatic tumors Log2(Fold change)',xc:[1115,855],yc:[923,678],
  sets:[[metPrim.concat(metPrimFill),BLUE]],lw:1,ln:fitLine3}
];

const frame={id:'frame',afterDatasetsDraw(c){const a=c.chartArea,x=c.ctx;x.save();x.strokeStyle='#161616';x.lineWidth=1.7;x.strokeRect(a.left,a.top,a.right-a.left,a.bottom-a.top);x.restore();}};

panels.forEach(p=>{
 const W=430,L=p.cx-215,T=p.f[1]-60,H=p.f[3]+50-T;
 const cv=document.createElement('canvas');cv.width=W;cv.height=H;cv.style.left=L+'px';cv.style.top=T+'px';document.body.appendChild(cv);
 const tPad=p.base-11.5-T-19.8;
 const shift={id:'shift',afterLayout(c){
  const sx=c.scales.x,sy=c.scales.y;
  c.titleBlock.left=0;c.titleBlock.right=W;
  const wrap=(s,dx,dy)=>{if(s._w)return;s._w=1;const o=s.drawTitle;s.drawTitle=function(){const g=c.ctx;g.save();g.translate(dx(),dy());o.apply(this,arguments);g.restore();};};
  wrap(sx,()=>p.xc[0]-L-(sx.left+sx.right)/2,()=>p.xc[1]-T-(sx.bottom-9.9));
  wrap(sy,()=>p.yc[0]-L-(sy.left+9.9),()=>p.yc[1]-T-(sy.top+sy.bottom)/2);
 }};
 const grid={color:'#cbc7c0',lineWidth:1.5,drawTicks:false};
 const tfont={family:FONT,size:16};
 const ds=[{type:'scatter',showLine:true,data:line(p.ln),borderColor:'#000',borderWidth:p.lw,pointRadius:0,order:0}];
 p.sets.slice().reverse().forEach((s,i)=>ds.push({type:'scatter',data:pts(s[0]),backgroundColor:s[1],borderColor:'#10151b',borderWidth:1.3,pointRadius:2.2,order:i===p.sets.length-1?3:1+i}));
 new Chart(cv,{type:'scatter',data:{datasets:ds},plugins:[frame,shift],options:{
  responsive:false,animation:false,events:[],
  layout:{padding:{left:0,top:0,bottom:0,right:L+W-p.f[2]}},
  plugins:{legend:{display:false},tooltip:{enabled:false},title:{display:true,text:p.title,color:INK,font:{family:FONT,size:33,weight:'normal',lineHeight:1.2},padding:{top:tPad,bottom:60-39.6-tPad}}},
  scales:{
   x:{type:'linear',min:p.xr[0],max:p.xr[1],grid,border:{display:false},afterFit(s){s.height=50;},
      title:{display:true,text:p.xt,color:INK,font:{family:FONT,size:16.5,lineHeight:1.2},padding:0},
      ticks:{stepSize:p.xs,includeBounds:false,color:INK,font:tfont,padding:6,labelOffset:-2,maxRotation:0,autoSkip:false}},
   y:{type:'linear',min:p.yr[0],max:p.yr[1],grid,border:{display:false},afterFit(s){s.width=p.f[0]-L;},
      title:{display:true,text:p.yt,color:INK,font:{family:FONT,size:16.5,lineHeight:1.2},padding:0},
      ticks:{stepSize:p.ys,includeBounds:false,color:INK,font:tfont,padding:4,autoSkip:false}}
  }}});
});
document.querySelectorAll('.cap').forEach(e=>{const w=e.getBoundingClientRect().width;e.style.transform='scaleX('+(+e.dataset.w/w)+')';});
</script>
</body></html>
